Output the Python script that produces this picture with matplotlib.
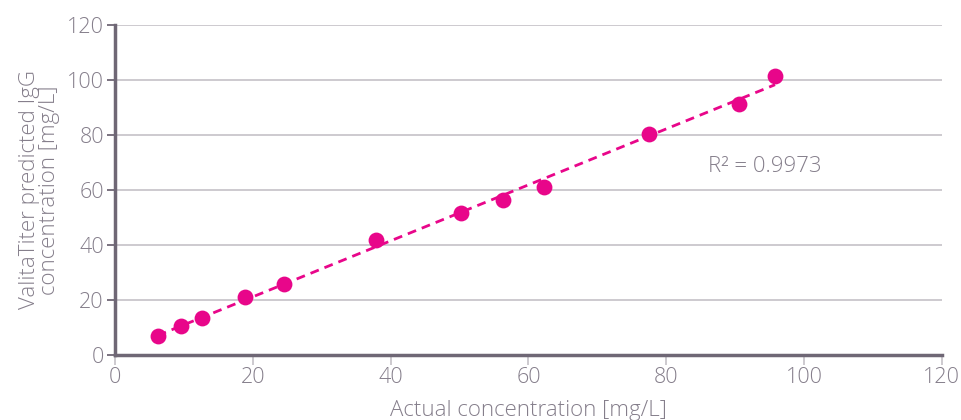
import numpy as np
import matplotlib
matplotlib.use("Agg")
import matplotlib.pyplot as plt

actual = [6.2, 9.6, 12.6, 18.9, 24.5, 37.9, 50.2, 56.3, 62.3, 77.5, 90.6, 95.8]
predicted = [7.0, 10.5, 13.3, 21.0, 25.7, 41.8, 51.6, 56.4, 61.2, 80.5, 91.2, 101.3]
x_ticks = [0, 20, 40, 60, 80, 100, 120]
y_ticks = [0, 20, 40, 60, 80, 100, 120]
r2_label = "R² = 0.9973"

magenta = "#e8068a"
axis_col = "#6f6775"
text_col = "#857e8b"
grid_col = "#c9c6cc"

plt.rcParams['font.family'] = ['Open Sans', 'DejaVu Sans']

fig = plt.figure(figsize=(9.62, 4.2), dpi=100)
ax = fig.add_axes([0.1195, 0.1548, 0.8595, 0.7857])

ax.set_xlim(0, 120)
ax.set_ylim(0, 120)
ax.set_xticks(x_ticks)
ax.set_yticks(y_ticks)

ax.grid(axis='y', color=grid_col, linewidth=1.3)
ax.set_axisbelow(True)

coef = np.polyfit(actual, predicted, 1)
xs = np.array([min(actual), max(actual)])
ax.plot(xs, np.polyval(coef, xs), linestyle=(0, (3.2, 2.2)), color=magenta, linewidth=2.0, zorder=2)
ax.scatter(actual, predicted, s=130, color=magenta, zorder=3, linewidths=0)

ax.text(86.0, 68.5, r2_label, fontsize=16, color=text_col, va='center', fontweight='light')

for s in ['top', 'right']:
    ax.spines[s].set_visible(False)
for s in ['left', 'bottom']:
    ax.spines[s].set_color(axis_col)
    ax.spines[s].set_linewidth(2.5)

ax.tick_params(axis='y', length=6, width=1.3, color=axis_col, labelsize=15.5, labelcolor=text_col, pad=2)
ax.tick_params(axis='x', length=7, width=1.3, color=grid_col, labelsize=15.5, labelcolor=text_col, pad=2)
for lbl in ax.get_xticklabels() + ax.get_yticklabels():
    lbl.set_fontweight('light')

ax.set_xlabel("Actual concentration [mg/L]", fontsize=16, color=text_col, labelpad=8, fontweight='light')
ax.set_ylabel("ValitaTiter predicted IgG\nconcentration [mg/L]", fontsize=16, color=text_col,
              labelpad=5, linespacing=0.95, fontweight='light')

fig.savefig("out.png", dpi=100)
